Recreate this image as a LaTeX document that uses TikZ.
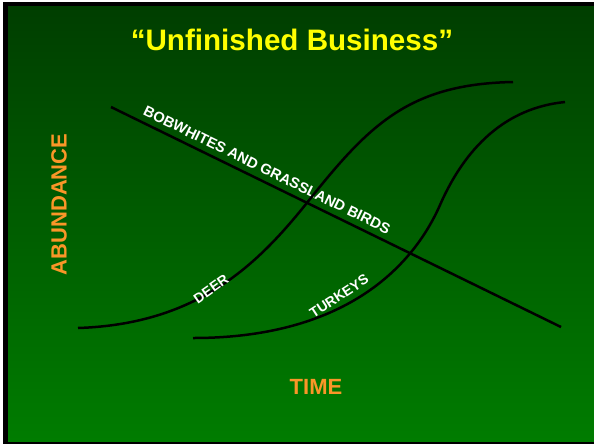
\documentclass[tikz,border=0pt]{standalone}
\usepackage{fontspec}
\setmainfont{Liberation Sans}
\definecolor{bgtop}{RGB}{0,62,0}
\definecolor{bgbot}{RGB}{0,124,0}
\definecolor{axisorange}{RGB}{250,150,40}
\definecolor{titleyellow}{RGB}{255,255,0}
\begin{document}
\begin{tikzpicture}[x=1pt,y=-1pt,
  trend/.style={line width=2.5pt, black},
  lbl/.style={text=white, font=\fontsize{14}{16}\selectfont\bfseries, inner sep=0pt},
  axislbl/.style={text=axisorange, font=\fontsize{22}{26}\selectfont\bfseries, inner sep=0pt},
  titlelbl/.style={text=titleyellow, font=\fontsize{29.6}{34}\selectfont\bfseries, inner sep=0pt}]
\useasboundingbox (0,0) rectangle (594,445);
\fill[white] (0,0) rectangle (594,445);
\fill[black] (3,2) rectangle (594,444);
\shade[top color=bgtop, bottom color=bgbot] (8,6) rectangle (594,441);

\node[titlelbl, anchor=base] (title) at (292,50) {“Unfinished Business”};
\node[axislbl, rotate=90, anchor=base] (abund) at (66.5,204.5) {ABUNDANCE};
\node[axislbl, anchor=base] (time) at (316,394) {TIME};

% bobwhites and grassland birds: declining line
\coordinate (b1) at (111,107);
\coordinate (b2) at (561,327);
\draw[trend] (b1) -- (b2) node[lbl, font=\fontsize{14.7}{16}\selectfont\bfseries, sloped, above=5.5pt, pos=0.335] (bob) {BOBWHITES AND GRASSLAND BIRDS};

% deer curve
\coordinate (d0) at (78,328);
\coordinate (d1) at (310,199);
\coordinate (d2) at (513,82);
\draw[trend] (d0) .. controls (200,324) and (260,262) .. (d1)
             .. controls (370,124) and (410,84) .. (d2);
\node[lbl, rotate=35] (deer) at (211,289) {DEER};

% turkey curve
\coordinate (t0) at (193,338);
\coordinate (t1) at (440,205);
\coordinate (t2) at (565,102);
\draw[trend] (t0) .. controls (350,338) and (415,262) .. (t1)
             .. controls (465,148) and (505,108) .. (t2);
\node[lbl, rotate=33] (turkeys) at (339,296) {TURKEYS};
\end{tikzpicture}
\end{document}
